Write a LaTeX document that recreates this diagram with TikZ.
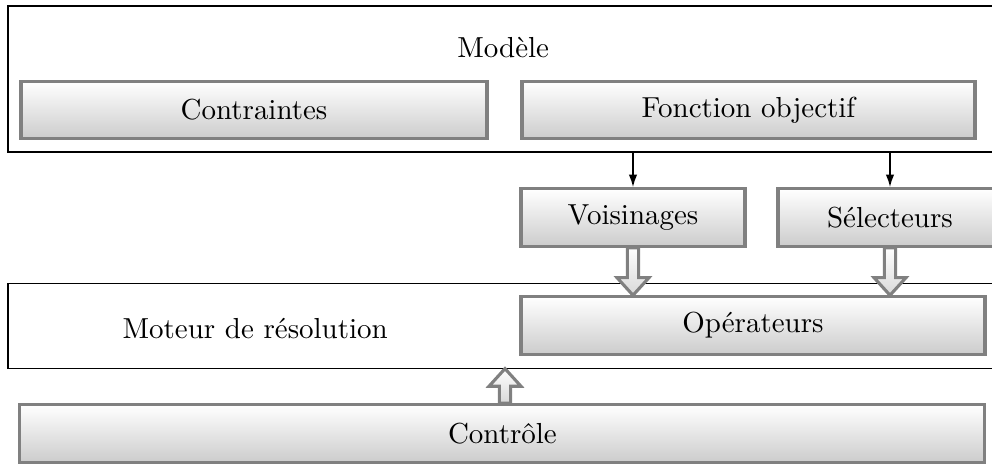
\documentclass[tikz,border=0pt]{standalone}
\usepackage{tikz}
\usetikzlibrary{calc,arrows.meta}

\newcommand{\grossefleche}[2]{%
  \coordinate (fa) at (#1);
  \coordinate (fb) at (#2);
  \coordinate (fh) at ($(fb)!0.22cm!(fa)$);
  \draw[grosse] ($(fa)!0.07cm!90:(fb)$) -- ($(fh)!0.07cm!-90:(fa)$) -- ($(fh)!0.2cm!-90:(fa)$) -- (fb)
    -- ($(fh)!0.2cm!90:(fa)$) -- ($(fh)!0.07cm!90:(fa)$) -- ($(fa)!0.07cm!-90:(fb)$) -- cycle;
}

\begin{document}
\begin{tikzpicture}[
    font=\fontsize{10.3pt}{12pt}\selectfont,
    bloc/.style={draw=gray, line width=1.1pt, top color=white, bottom color=black!20,
                 inner sep=0pt, minimum height=0.72cm},
    cadre/.style={draw, thin, inner sep=0pt},
    grosse/.style={draw=gray, line width=1.1pt, top color=white, bottom color=black!15},
    fine/.style={-{Latex[length=4.5pt,width=3pt]}, semithick}
  ]
        \useasboundingbox (0, 0) rectangle (12.4, 5.8);

        \node[cadre, minimum width=12.5cm, minimum height=1.825cm] (modele) at (6.35, 4.8125) {};
        \node (tmodele) at (6.29, 5.2) {Modèle};
        \node[bloc, minimum width=5.825cm] (contraintes) at (3.175, 4.425) {Contraintes};
        \node[bloc, minimum width=5.6625cm] (objectif) at (9.356, 4.425) {Fonction objectif};

        \node[bloc, minimum width=2.8cm] (voisinages) at (7.9125, 3.08) {Voisinages};
        \node[bloc, minimum width=2.8cm] (selecteurs) at (11.125, 3.08) {Sélecteurs};

        \node[cadre, minimum width=12.5cm, minimum height=1.0625cm] (moteur) at (6.35, 1.73) {};
        \node (tmoteur) at (3.19, 1.69) {Moteur de résolution};
        \node[bloc, minimum width=5.8cm] (operateurs) at (9.4125, 1.73) {Opérateurs};

        \node[bloc, minimum width=12.0625cm] (controle) at (6.28, 0.38) {Contrôle};

        \draw[fine] (voisinages.north |- modele.south) -- (voisinages.north);
        \draw[fine] (selecteurs.north |- modele.south) -- (selecteurs.north);

        \grossefleche{voisinages.south}{voisinages.south |- operateurs.north};
        \grossefleche{selecteurs.south}{selecteurs.south |- operateurs.north};
        \grossefleche{controle.north -| 6.3125,0}{6.3125,0 |- moteur.south};
\end{tikzpicture}
\end{document}
